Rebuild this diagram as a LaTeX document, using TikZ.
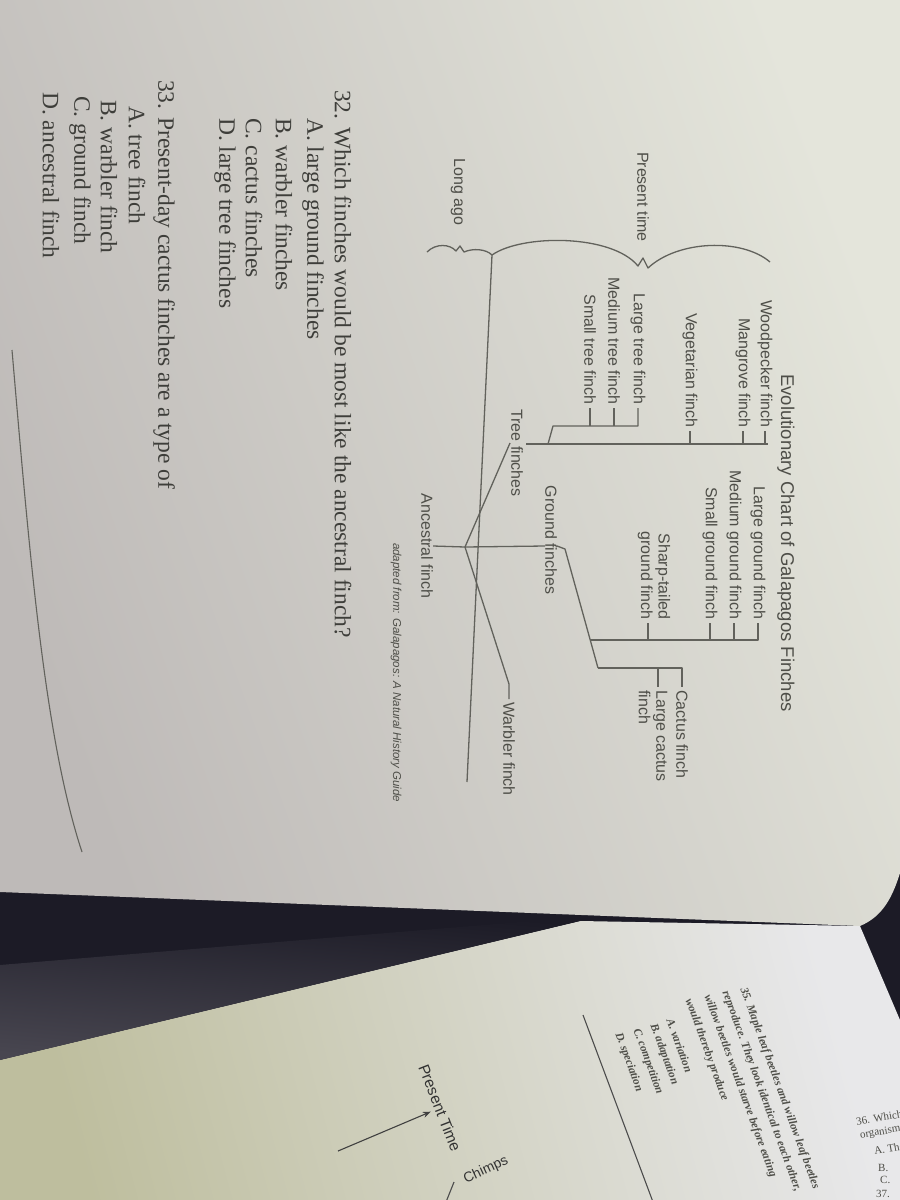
\documentclass[tikz,border=0pt]{standalone}
\usepackage{fontspec}
\setmainfont{Liberation Serif}
\newfontfamily\arial{Liberation Sans}
\usetikzlibrary{arrows.meta}
\definecolor{ink}{RGB}{78,78,72}
\definecolor{qink}{RGB}{62,62,58}
\definecolor{lineg}{RGB}{98,98,92}
\definecolor{darkbg}{RGB}{28,27,38}
\definecolor{pageL}{RGB}{190,186,184}
\definecolor{pageR}{RGB}{228,229,219}
\definecolor{lowL}{RGB}{190,190,158}
\definecolor{lowR}{RGB}{232,232,234}
\definecolor{band}{RGB}{72,70,80}
\begin{document}
\begin{tikzpicture}[x=1pt,y=-1pt,
  lab/.style={rotate=-90,inner xsep=3pt,inner ysep=0pt,text=ink,font=\arial\fontsize{16}{17.5}\selectfont},
  tree/.style={draw=lineg,line width=1.3pt,line join=round},
  qtext/.style={rotate=-90,anchor=west,inner sep=0pt,text=qink,font=\fontsize{23.5}{26}\selectfont},
  lowtext/.style={rotate=-70,anchor=west,inner sep=0pt,text=ink,font=\bfseries\itshape\fontsize{11.5}{13}\selectfont},
  sidetext/.style={anchor=west,inner sep=0pt,text=ink,font=\fontsize{11}{12}\selectfont}]
\useasboundingbox (0,0) rectangle (900,1200);
\clip (0,0) rectangle (900,1200);
% ---------- background ----------
\fill[darkbg] (0,860) rectangle (900,1200);
\shade[top color=lowR, bottom color=lowL, shading angle=-75]
  (0,1060) -- (580,921) -- (860,926) -- (900,1020) -- (900,1200) -- (0,1200) -- cycle;
\shade[top color=darkbg, bottom color=band, shading angle=-5]
  (0,965) -- (580,917) -- (580,921) -- (0,1060) -- cycle;
\shade[top color=pageR, bottom color=pageL, shading angle=-70]
  (0,0) -- (900,0) -- (900,873) .. controls (893,895) and (884,916) .. (860,926) -- (0,892) -- cycle;
% left pen line on the page
\draw[lineg,line width=1.1pt] (12,350) .. controls (30,560) and (45,740) .. (82,852);
% ---------- title and source ----------
\node[lab,font=\arial\fontsize{18.5}{20}\selectfont] (title) at (786,543) {Evolutionary Chart of Galapagos Finches};
\node[lab,anchor=west,inner xsep=0pt,font=\arial\itshape\fontsize{11.5}{13}\selectfont] (src) at (396,543) {adapted from: Galapagos: A Natural History Guide};
% ---------- time labels ----------
\node[lab] (pres) at (643,197) {Present time};
\node[lab] (long) at (458,192) {Long ago};
\coordinate (j) at (492,255);
\coordinate (axisend) at (467,782);
\draw[tree] (j) -- (axisend);
\draw[tree] (j) .. controls (522,234) and (612,234) .. (638,266) -- (643,258) -- (648,268)
  .. controls (678,240) and (742,238) .. (770,262);
\draw[tree] (427,252) .. controls (436,243) and (450,244) .. (456,251) -- (460,246) -- (464,252)
  .. controls (473,248) and (486,249) .. (j);
% ---------- species labels ----------
\node[lab,anchor=east] (wood) at (765,431) {Woodpecker finch};
\node[lab,anchor=east] (mang) at (743,431) {Mangrove finch};
\node[lab,anchor=east] (veg)  at (690,431) {Vegetarian finch};
\node[lab,anchor=east] (ltf)  at (638,408) {Large tree finch};
\node[lab,anchor=east] (mtf)  at (614,408) {Medium tree finch};
\node[lab,anchor=east] (stf)  at (590,408) {Small tree finch};
\node[lab,anchor=east] (lgf)  at (758,623) {Large ground finch};
\node[lab,anchor=east] (mgf)  at (734,623) {Medium ground finch};
\node[lab,anchor=east] (sgf)  at (710,623) {Small ground finch};
\node[lab,anchor=east,align=right] (stg) at (654,623) {Sharp-tailed\\ground finch};
\node[lab,anchor=west] (cf)   at (682,687) {Cactus finch};
\node[lab,anchor=west,align=left] (lcf) at (653,687) {Large cactus\\finch};
\node[lab,anchor=west] (wf)   at (509,699) {Warbler finch};
\node[lab] (af)  at (427,546) {Ancestral finch};
\node[lab,inner xsep=0pt,inner ysep=2pt] (tfl) at (517,453) {Tree finches};
\node[lab,inner xsep=0pt,inner ysep=2pt] (gfl) at (551,540) {Ground finches};
% ---------- tree ----------
\coordinate (anc) at (465,547);
\coordinate (tf1) at (510,443);
\coordinate (tf2) at (526,444);
\coordinate (top) at (768,444);
\coordinate (g0)  at (557,546);
\coordinate (g1)  at (565,549);
\coordinate (g2)  at (598,668);
\coordinate (gb)  at (590,640);
\coordinate (ts1) at (548,444);
\coordinate (ts2) at (553,426);
\coordinate (wb)  at (509,684);
% trunk
\draw[tree] (af.north) -- (anc) -- (545,546);
% tree finch branch
\draw[tree] (anc) -- (tf1);
\draw[tree] (tf2) -- (top);
\draw[tree] (wood.east) -- (wood.east |- top);
\draw[tree] (mang.east) -- (mang.east |- top);
\draw[tree] (veg.east) -- (veg.east |- top);
\draw[tree] (ts1) -- (ts2) -- (ltf.east |- ts2) -- (ltf.east);
\draw[tree] (mtf.east) -- (mtf.east |- ts2);
\draw[tree] (stf.east) -- (stf.east |- ts2);
% ground finch branch
\draw[tree] (g0) -- (g1) -- (g2);
\draw[tree] (gb) -- (lgf.east |- gb) -- (lgf.east);
\draw[tree] (mgf.east) -- (mgf.east |- gb);
\draw[tree] (sgf.east) -- (sgf.east |- gb);
\draw[tree] ([xshift=-6pt]stg.east) -- ([xshift=-6pt]stg.east |- gb);
% cactus
\draw[tree] (g2) -- (cf.west |- g2) -- (cf.west);
\draw[tree] ([xshift=5pt]lcf.west |- g2) -- ([xshift=5pt]lcf.west);
% warbler
\draw[tree] (anc) -- (wb) -- (wf.west);
% ---------- questions ----------
\node[qtext] (q32) at (343,90) {32. Which finches would be most like the ancestral finch?};
\node[qtext] (q32a) at (313,118) {A. large ground finches};
\node[qtext] (q32b) at (284,118) {B. warbler finches};
\node[qtext] (q32c) at (254,118) {C. cactus finches};
\node[qtext] (q32d) at (225,118) {D. large tree finches};
\node[qtext] (q33) at (164,80) {33. Present-day cactus finches are a type of};
\node[qtext] (q33a) at (137,106) {A. tree finch};
\node[qtext] (q33b) at (109,100) {B. warbler finch};
\node[qtext] (q33c) at (80,96) {C. ground finch};
\node[qtext] (q33d) at (51,92) {D. ancestral finch};
% ---------- lower page ----------
\node[rotate=-68.7,inner sep=1pt,text=black!80,font=\arial\fontsize{15.5}{17}\selectfont] (pt) at (440,1108) {Present Time};
\coordinate (arrs) at (338,1151);
\draw[black!75,line width=1.1pt,-{Stealth[length=8pt,width=6pt]},shorten >=3pt] (arrs) -- (pt.south);
\node[rotate=25,inner sep=0pt,text=black!80,font=\arial\fontsize{14}{16}\selectfont] (chimps) at (486,1170) {Chimps};
\coordinate (chl) at (446,1202);
\coordinate (chs) at (454,1182);
\draw[black!70,line width=1.1pt] (chs) -- (chl);
\coordinate (l1) at (583,1015);
\coordinate (l2) at (653,1202);
\draw[black!70,line width=1.1pt] (l1) -- (l2);
\node[lowtext] at (743,988) {35. Maple leaf beetles and willow leaf beetles};
\node[lowtext] at (725,991) {reproduce. They look identical to each other,};
\node[lowtext] at (707,995) {willow beetles would starve before eating};
\node[lowtext] at (688,999) {would thereby produce};
\node[lowtext] at (670,1019) {A. variation};
\node[lowtext] at (653,1024) {B. adaptation};
\node[lowtext] at (636,1029) {C. competition};
\node[lowtext] at (618,1033) {D. speciation};
\node[sidetext,rotate=10] at (856,1122) {36. Which of};
\node[sidetext,rotate=10] at (860,1136) {organisms};
\node[sidetext,rotate=10] at (874,1151) {A. The};
\node[sidetext] at (878,1168) {B.};
\node[sidetext] at (880,1180) {C.};
\node[sidetext] at (876,1194) {37.};
\end{tikzpicture}
\end{document}
